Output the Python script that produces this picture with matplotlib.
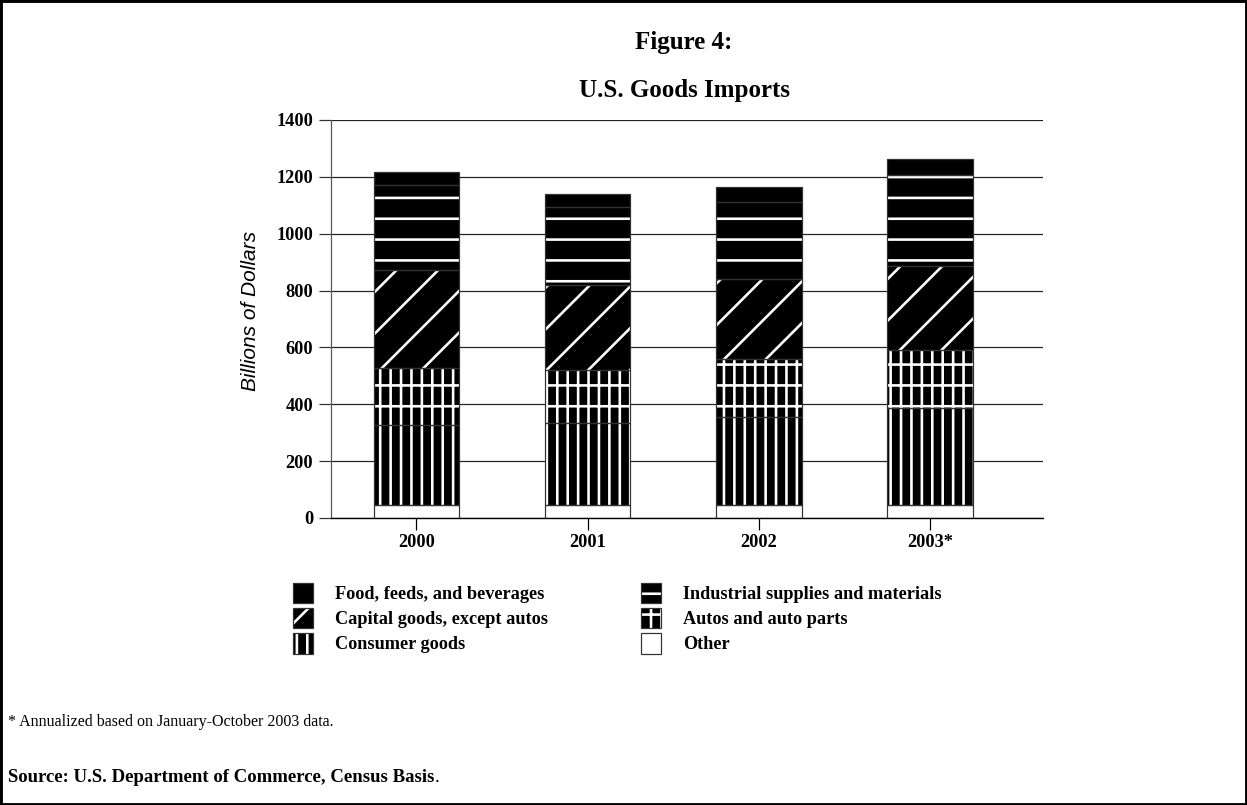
import numpy as np
import matplotlib.pyplot as plt
from matplotlib.legend_handler import HandlerTuple
from matplotlib.patches import Rectangle

plt.rcParams['font.family'] = 'Liberation Serif'
plt.rcParams['hatch.linewidth'] = 0.75

# datos (miles de millones de dolares), de abajo hacia arriba
years = ['2000', '2001', '2002', '2003*']
other = [46, 46, 46, 46]
consumer = [281, 287, 308, 340]
autos = [200, 188, 205, 205]
capital = [345, 299, 282, 296]
industrial = [298, 273, 272, 321]
food = [46, 47, 50, 55]

# nombre, valores, relleno, trama
series = [
    ('Other', other, 'white', None),
    ('Consumer goods', consumer, 'black', '||||'),
    ('Autos and auto parts', autos, 'black', '||||--'),
    ('Capital goods, except autos', capital, 'black', '//'),
    ('Industrial supplies and materials', industrial, 'black', '--'),
    ('Food, feeds, and beverages', food, 'black', None),
]

W, H, DPI = 1247, 805, 250
fig = plt.figure(figsize=(W / DPI, H / DPI), dpi=DPI)
ax = fig.add_axes([330.7 / W, (H - 518) / H, (1043 - 330.7) / W, (518 - 120) / H])

x = np.arange(len(years))
bottom = np.zeros(len(years))
handles = {}
for name, vals, fc, hatch in series:
    # la trama toma el color del borde: blanco
    hb = ax.bar(x, vals, 0.5, bottom=bottom, color=fc, hatch=hatch,
                edgecolor='white', linewidth=0, zorder=2)
    ob = ax.bar(x, vals, 0.5, bottom=bottom, fill=False,
                edgecolor='#333333', linewidth=0.35, zorder=3)
    handles[name] = (hb, ob)
    bottom += np.array(vals)

ax.set_ylim(0, 1400)
ax.set_yticks(range(0, 1401, 200))
ax.set_xlim(-0.5, 3.66)
ax.set_xticks(x)
ax.set_xticklabels(years)
ax.yaxis.grid(True, color='#222222', linewidth=0.35)
ax.set_axisbelow(True)
for s in ['top', 'right']:
    ax.spines[s].set_visible(False)
ax.spines['left'].set_color('#555555')
ax.spines['left'].set_linewidth(0.35)
ax.spines['bottom'].set_linewidth(0.4)
ax.tick_params(axis='y', length=3.5, width=0.35, pad=1.5, labelsize=5.3, color='#333333')
ax.tick_params(axis='x', length=3.5, width=0.35, pad=1.2, labelsize=5.3)
for lbl in ax.get_xticklabels() + ax.get_yticklabels():
    lbl.set_fontweight('bold')

ax.set_ylabel('Billions of Dollars', fontfamily='Liberation Sans', style='italic',
              fontsize=6.0)
ax.yaxis.set_label_coords(-0.099, 0.52)

# titulo
fig.text(684 / W, 1 - 42 / H, 'Figure 4:', ha='center', va='center',
         fontsize=7.2, fontweight='bold')
fig.text(684 / W, 1 - 90 / H, 'U.S. Goods Imports', ha='center', va='center',
         fontsize=7.2, fontweight='bold')

# leyenda (dos columnas)
order = ['Food, feeds, and beverages', 'Capital goods, except autos', 'Consumer goods',
         'Industrial supplies and materials', 'Autos and auto parts', 'Other']
leg = ax.legend([handles[n] for n in order], order,
                handler_map={tuple: HandlerTuple(ndivide=1, pad=0)},
                ncol=2, loc='upper left', bbox_to_anchor=(293 / W, 1 - 583 / H),
                bbox_transform=fig.transFigure, frameon=False,
                prop={'family': 'Liberation Serif', 'weight': 'bold', 'size': 5.25},
                handlelength=1.1, handleheight=1.35, handletextpad=1.2,
                columnspacing=5.1, labelspacing=0.25, borderpad=0, borderaxespad=0)

# notas
fig.text(8 / W, 1 - 722 / H, '* Annualized based on January-October 2003 data.',
         va='center', fontsize=4.6)
src = fig.text(8 / W, 1 - 777 / H, 'Source: U.S. Department of Commerce, Census Basis',
               va='center', fontsize=5.4, fontweight='bold')
ax.annotate('.', xy=(1, 0), xycoords=src, va='bottom', ha='left', fontsize=5.4,
            annotation_clip=False)

fig.add_artist(Rectangle((0, 0), 1, 1, transform=fig.transFigure, fill=False,
                         edgecolor='black', linewidth=1.4))

fig.savefig('out.png', dpi=DPI)
